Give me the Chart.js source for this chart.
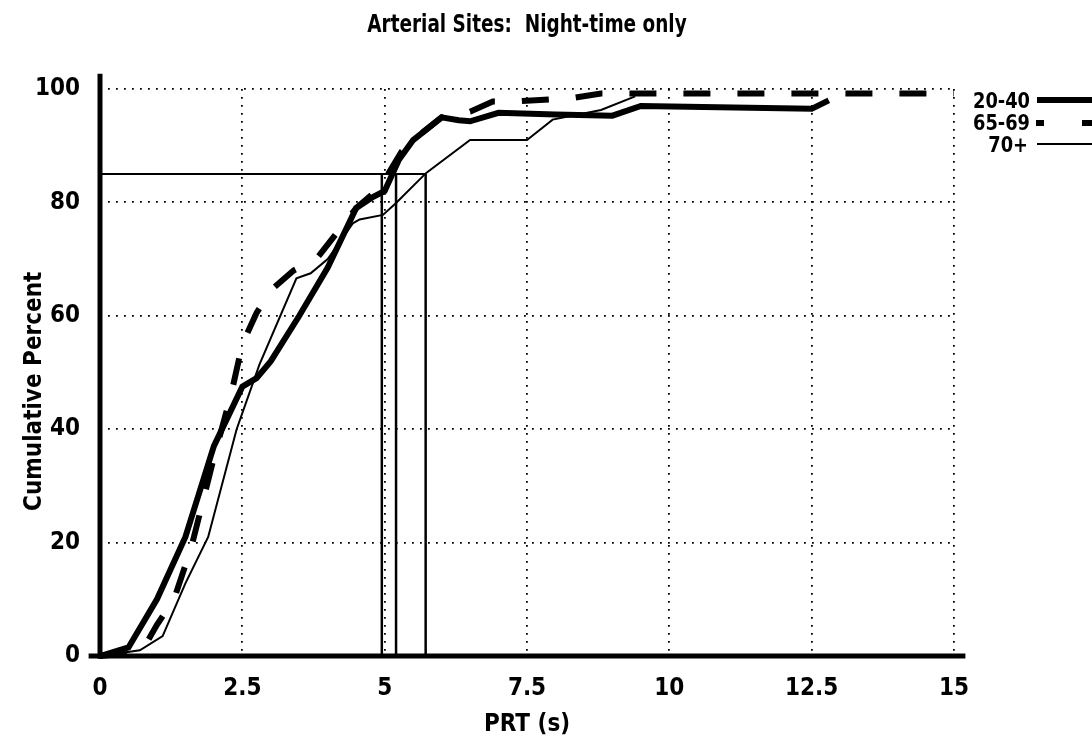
<!DOCTYPE html>
<html>
<head>
<meta charset="utf-8">
<script src="https://cdn.jsdelivr.net/npm/chart.js@4.4.0/dist/chart.umd.min.js"></script>
<style>
  html, body { margin: 0; padding: 0; background: #fff; }
  #wrap { position: relative; width: 1092px; height: 748px; }
  canvas { position: absolute; left: 0; top: 0; }
  .t { position: absolute; font-family: 'Liberation Sans Narrow', 'DejaVu Sans Condensed', 'Arial Narrow', sans-serif; font-weight: bold; color: #000; white-space: pre; }
  .sw { position: absolute; background: #000; }
</style>
</head>
<body>
<div id="wrap">
  <canvas id="c" width="1092" height="748"></canvas>
  <div class="t" id="title" style="left:0; width:1054px; top:9px; text-align:center; font-size:25px; transform:scaleX(0.82); transform-origin:527px 0;">Arterial Sites:  Night-time only</div>
  <div class="t" style="left:900px; width:130px; top:88px; text-align:right; font-size:22px; transform:scaleX(0.9); transform-origin:130px 0;">20-40</div>
  <div class="sw" style="left:1037px; top:97px; width:55px; height:6px;"></div>
  <div class="t" style="left:900px; width:130px; top:110px; text-align:right; font-size:22px; transform:scaleX(0.9); transform-origin:130px 0;">65-69</div>
  <div class="sw" style="left:1036px; top:120px; width:8px; height:6px;"></div>
  <div class="sw" style="left:1082px; top:120px; width:10px; height:6px;"></div>
  <div class="t" style="left:900px; width:128px; top:132px; text-align:right; font-size:22px; transform:scaleX(0.9); transform-origin:128px 0;">70+</div>
  <div class="sw" style="left:1037px; top:143px; width:55px; height:2px;"></div>
</div>
<script>
// ---- data ----
const xTicksStep = 2.5;
const yTicksStep = 20;

const g2040X = [0, 0.5, 1.0, 1.5, 2.0, 2.5, 2.75, 3.0, 3.5, 4.0, 4.5, 4.8, 5.0, 5.25, 5.5, 6.0, 6.3, 6.5, 7.0, 8.0, 9.0, 9.5, 12.5, 12.8];
const g2040Y = [0, 1.5, 10, 21, 37, 47.5, 49, 52, 60, 68.5, 79, 81, 82, 87.5, 91, 95, 94.5, 94.3, 95.8, 95.5, 95.3, 97, 96.5, 98];

const g6569X = [0, 0.5, 0.8, 1.0, 1.3, 1.6, 2.0, 2.3, 2.5, 2.75, 3.0, 3.4, 3.8, 4.5, 4.85, 5.0, 5.3, 5.5, 6.0, 6.5, 6.9, 7.3, 8.3, 8.8, 15];
const g6569Y = [0, 0.5, 2, 5.5, 10, 19, 35, 46, 55, 60.5, 64.5, 68, 70, 79, 82, 84, 89, 91, 95, 96, 97.8, 97.8, 98.4, 99.2, 99.2];

const g70X = [0, 0.7, 1.1, 1.5, 1.9, 2.4, 2.8, 3.45, 3.7, 4.0, 4.44, 4.56, 4.97, 5.2, 5.73, 6.5, 7.5, 7.95, 8.8, 9.4];
const g70Y = [0, 1, 3.5, 12.8, 21, 40, 51.4, 66.6, 67.5, 70, 76.3, 77, 77.8, 79.9, 85.2, 91, 91, 94.6, 96.3, 98.7];

const pct85Level = 85;
const pct85X = [4.95, 5.2, 5.72];   // 85th percentile PRT: 65-69, 20-40, 70+

const FONT = "'Liberation Sans Narrow', 'DejaVu Sans Condensed', 'Arial Narrow', sans-serif";

function pts(xs, ys) { return xs.map((x, i) => ({x: x, y: ys[i]})); }

const datasets = [
  { label: '70+', data: pts(g70X, g70Y), borderColor: '#000', borderWidth: 2, pointRadius: 0, tension: 0, clip: false },
  { label: '65-69', data: pts(g6569X, g6569Y), borderColor: '#000', borderWidth: 6, borderDash: [27, 27], pointRadius: 0, tension: 0, clip: false },
  { label: '20-40', data: pts(g2040X, g2040Y), borderColor: '#000', borderWidth: 6, pointRadius: 0, tension: 0, clip: false },
  { label: 'ref85', data: [{x: 0, y: pct85Level}, {x: Math.max(...pct85X), y: pct85Level}], borderColor: '#000', borderWidth: 2, pointRadius: 0, clip: false }
];
pct85X.forEach(v => datasets.push({ label: 'v' + v, data: [{x: v, y: 0}, {x: v, y: pct85Level}], borderColor: '#000', borderWidth: 2.5, pointRadius: 0, clip: false }));

const axisPlugin = {
  id: 'axisLines',
  afterDatasetsDraw(chart) {
    const {ctx, scales: {x, y}} = chart;
    ctx.save();
    ctx.strokeStyle = '#000';
    ctx.lineCap = 'butt';
    ctx.lineWidth = 5;
    ctx.beginPath();
    ctx.moveTo(x.getPixelForValue(0), y.getPixelForValue(102.7));
    ctx.lineTo(x.getPixelForValue(0), y.getPixelForValue(-0.5));
    ctx.stroke();
    ctx.beginPath();
    ctx.moveTo(x.getPixelForValue(-0.2), y.getPixelForValue(0));
    ctx.lineTo(x.getPixelForValue(15.2), y.getPixelForValue(0));
    ctx.stroke();
    ctx.restore();
  }
};

new Chart(document.getElementById('c'), {
  type: 'line',
  data: { datasets: datasets },
  options: {
    responsive: false,
    animation: false,
    layout: { padding: { top: 89, right: 138, left: 0, bottom: 0 } },
    plugins: { legend: { display: false }, tooltip: { enabled: false }, title: { display: false } },
    scales: {
      x: {
        type: 'linear', min: 0, max: 15,
        ticks: { stepSize: xTicksStep, color: '#000', padding: 18, font: { family: FONT, size: 24, weight: 'bold' }, maxRotation: 0 },
        grid: { color: '#000', lineWidth: 1.8, drawTicks: false },
        border: { display: false, dash: [1.8, 6.2] },
        title: { display: true, text: 'PRT (s)', color: '#000', font: { family: FONT, size: 24, weight: 'bold' }, padding: { top: 0, bottom: 9 } },
        afterFit(s) { s.height = 92; }
      },
      y: {
        type: 'linear', min: 0, max: 100,
        ticks: { stepSize: yTicksStep, color: '#000', padding: 20, font: { family: FONT, size: 24, weight: 'bold' } },
        grid: { color: '#000', lineWidth: 1.8, drawTicks: false },
        border: { display: false, dash: [1.8, 6.2] },
        title: { display: true, text: 'Cumulative Percent     ', color: '#000', font: { family: FONT, size: 24, weight: 'bold' }, padding: { top: 20, bottom: 0 } },
        afterFit(s) { s.width = 100; }
      }
    }
  },
  plugins: [axisPlugin]
});
</script>
</body>
</html>
